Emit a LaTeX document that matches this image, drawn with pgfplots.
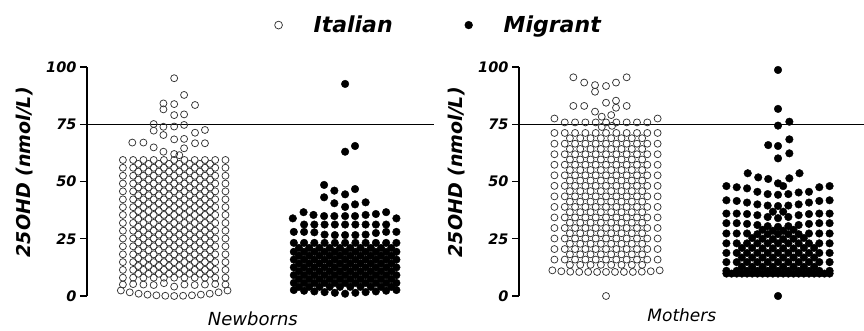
\documentclass[border=0pt]{standalone}
\usepackage{fontspec}
\setmainfont{DejaVu Sans}
\usepackage{pgfplots}
\pgfplotsset{compat=1.18}
\pgfplotsset{
  panel/.style={
    scale only axis, height=229pt,
    ymin=0, ymax=100, clip=false,
    axis lines=left,
    axis line style={-, line width=1.2pt},
    x axis line style={draw=none},
    xtick=\empty,
    ytick={0,25,50,75,100},
    tick align=outside,
    major tick length=7pt,
    tick style={line width=1.2pt, black},
    /pgf/number format/assume math mode=true,
    yticklabel style={font=\fontsize{14.5}{16}\selectfont\bfseries\itshape},
    ylabel={25OHD (nmol/L)},
    ylabel style={font=\fontsize{19}{22}\selectfont\bfseries\itshape, anchor=center},
  },
  ital/.style={only marks, mark=o, mark size=3.5pt, mark options={line width=0.75pt, draw=black!80}},
  migr/.style={only marks, mark=*, mark size=3.8pt, mark options={draw=black, fill=black}},
  refline/.style={no marks, line width=1.3pt, black, forget plot},
}
\begin{document}
\begin{tikzpicture}[x=1pt,y=1pt]
%================ LEFT PANEL: NEWBORNS =================
\begin{axis}[panel, at={(87pt,35pt)}, anchor=south west, width=347pt,
  xmin=0.49, xmax=2.52,
  ylabel style={at={(axis description cs:-0.179,0.54)}},
  xlabel={Newborns},
  xlabel style={at={(axis description cs:0.478,-0.1004)}, anchor=center, font=\fontsize{18}{20}\selectfont\itshape},
  legend columns=2,
  legend style={at={(axis description cs:1.012,1.183)}, anchor=center, draw=none, fill=none,
    font=\fontsize{22}{26}\selectfont\bfseries\itshape,
    /tikz/every even column/.append style={column sep=69pt}},
  legend image code/.code={\draw[#1, mark size=3.9pt] plot coordinates {(0pt,0pt)}; \path[draw=none,fill=none] (-5pt,-3pt) rectangle (33pt,3pt);},
]
\addplot[refline] coordinates {(0.49,75) (2.52,75)};
% Italian newborns
\addplot[ital] coordinates {
(1.000,95.1) (1.058,87.8) (0.937,84.1) (0.937,81.5) (1.000,83.8) (1.122,83.4) (1.000,79.0) (1.058,79.3)
(0.880,75.1) (0.880,72.2) (0.937,73.9) (1.000,74.0) (1.058,74.7) (1.180,72.5) (1.122,71.3)
(0.937,70.3) (1.000,68.4) (1.058,68.6) (1.122,66.7) (1.180,66.7) (0.755,67.0) (0.820,67.0) (0.880,64.9) (0.937,63.0) (1.000,62.0) (1.058,64.5) (1.030,61.5)
(0.70,59.4) (0.76,59.4) (0.82,59.4) (0.88,59.4) (0.94,59.4) (1.00,59.4) (1.06,59.4) (1.12,59.4) (1.18,59.4) (1.24,59.4) (1.30,59.4)
(0.79,57.7) (0.85,57.7) (0.91,57.7) (0.97,57.7) (1.03,57.7) (1.09,57.7) (1.15,57.7) (1.21,57.7)
(0.70,56.0) (0.76,56.0) (0.82,56.0) (0.88,56.0) (0.94,56.0) (1.00,56.0) (1.06,56.0) (1.12,56.0) (1.18,56.0) (1.24,56.0) (1.30,56.0)
(0.79,54.3) (0.85,54.3) (0.91,54.3) (0.97,54.3) (1.03,54.3) (1.09,54.3) (1.15,54.3) (1.21,54.3)
(0.70,52.5) (0.76,52.5) (0.82,52.5) (0.88,52.5) (0.94,52.5) (1.00,52.5) (1.06,52.5) (1.12,52.5) (1.18,52.5) (1.24,52.5) (1.30,52.5)
(0.79,50.8) (0.85,50.8) (0.91,50.8) (0.97,50.8) (1.03,50.8) (1.09,50.8) (1.15,50.8) (1.21,50.8)
(0.70,49.1) (0.76,49.1) (0.82,49.1) (0.88,49.1) (0.94,49.1) (1.00,49.1) (1.06,49.1) (1.12,49.1) (1.18,49.1) (1.24,49.1) (1.30,49.1)
(0.79,47.4) (0.85,47.4) (0.91,47.4) (0.97,47.4) (1.03,47.4) (1.09,47.4) (1.15,47.4) (1.21,47.4)
(0.70,45.7) (0.76,45.7) (0.82,45.7) (0.88,45.7) (0.94,45.7) (1.00,45.7) (1.06,45.7) (1.12,45.7) (1.18,45.7) (1.24,45.7) (1.30,45.7)
(0.79,44.0) (0.85,44.0) (0.91,44.0) (0.97,44.0) (1.03,44.0) (1.09,44.0) (1.15,44.0) (1.21,44.0)
(0.70,42.2) (0.76,42.2) (0.82,42.2) (0.88,42.2) (0.94,42.2) (1.00,42.2) (1.06,42.2) (1.12,42.2) (1.18,42.2) (1.24,42.2) (1.30,42.2)
(0.79,40.5) (0.85,40.5) (0.91,40.5) (0.97,40.5) (1.03,40.5) (1.09,40.5) (1.15,40.5) (1.21,40.5)
(0.70,38.8) (0.76,38.8) (0.82,38.8) (0.88,38.8) (0.94,38.8) (1.00,38.8) (1.06,38.8) (1.12,38.8) (1.18,38.8) (1.24,38.8) (1.30,38.8)
(0.79,37.1) (0.85,37.1) (0.91,37.1) (0.97,37.1) (1.03,37.1) (1.09,37.1) (1.15,37.1) (1.21,37.1)
(0.70,35.4) (0.76,35.4) (0.82,35.4) (0.88,35.4) (0.94,35.4) (1.00,35.4) (1.06,35.4) (1.12,35.4) (1.18,35.4) (1.24,35.4) (1.30,35.4)
(0.79,33.7) (0.85,33.7) (0.91,33.7) (0.97,33.7) (1.03,33.7) (1.09,33.7) (1.15,33.7) (1.21,33.7)
(0.70,31.9) (0.76,31.9) (0.82,31.9) (0.88,31.9) (0.94,31.9) (1.00,31.9) (1.06,31.9) (1.12,31.9) (1.18,31.9) (1.24,31.9) (1.30,31.9)
(0.79,30.2) (0.85,30.2) (0.91,30.2) (0.97,30.2) (1.03,30.2) (1.09,30.2) (1.15,30.2) (1.21,30.2)
(0.70,28.5) (0.76,28.5) (0.82,28.5) (0.88,28.5) (0.94,28.5) (1.00,28.5) (1.06,28.5) (1.12,28.5) (1.18,28.5) (1.24,28.5) (1.30,28.5)
(0.79,26.8) (0.85,26.8) (0.91,26.8) (0.97,26.8) (1.03,26.8) (1.09,26.8) (1.15,26.8) (1.21,26.8)
(0.70,25.1) (0.76,25.1) (0.82,25.1) (0.88,25.1) (0.94,25.1) (1.00,25.1) (1.06,25.1) (1.12,25.1) (1.18,25.1) (1.24,25.1) (1.30,25.1)
(0.79,23.4) (0.85,23.4) (0.91,23.4) (0.97,23.4) (1.03,23.4) (1.09,23.4) (1.15,23.4) (1.21,23.4)
(0.70,21.7) (0.76,21.7) (0.82,21.7) (0.88,21.7) (0.94,21.7) (1.00,21.7) (1.06,21.7) (1.12,21.7) (1.18,21.7) (1.24,21.7) (1.30,21.7)
(0.79,20.0) (0.85,20.0) (0.91,20.0) (0.97,20.0) (1.03,20.0) (1.09,20.0) (1.15,20.0) (1.21,20.0)
(0.70,18.2) (0.76,18.2) (0.82,18.2) (0.88,18.2) (0.94,18.2) (1.00,18.2) (1.06,18.2) (1.12,18.2) (1.18,18.2) (1.24,18.2) (1.30,18.2)
(0.79,16.5) (0.85,16.5) (0.91,16.5) (0.97,16.5) (1.03,16.5) (1.09,16.5) (1.15,16.5) (1.21,16.5)
(0.70,14.8) (0.76,14.8) (0.82,14.8) (0.88,14.8) (0.94,14.8) (1.00,14.8) (1.06,14.8) (1.12,14.8) (1.18,14.8) (1.24,14.8) (1.30,14.8)
(0.79,13.1) (0.85,13.1) (0.91,13.1) (0.97,13.1) (1.03,13.1) (1.09,13.1) (1.15,13.1) (1.21,13.1)
(0.70,11.4) (0.76,11.4) (0.82,11.4) (0.88,11.4) (0.94,11.4) (1.00,11.4) (1.06,11.4) (1.12,11.4) (1.18,11.4) (1.24,11.4) (1.30,11.4)
(0.79,9.7) (0.85,9.7) (0.91,9.7) (0.97,9.7) (1.03,9.7) (1.09,9.7) (1.15,9.7) (1.21,9.7)
(0.70,8.0) (0.76,8.0) (0.82,8.0) (0.88,8.0) (0.94,8.0) (1.00,8.0) (1.06,8.0) (1.12,8.0) (1.18,8.0) (1.24,8.0) (1.30,8.0)
(0.70,5.0) (0.76,5.2) (0.82,5.0) (0.88,4.8) (0.94,5.6) (1.00,4.1) (1.06,5.0) (1.12,4.8) (1.18,5.0) (1.24,5.2) (1.30,5.0)
(0.688,2.4) (0.740,1.6) (0.792,1.0) (0.844,0.6) (0.896,0.3) (0.948,0.1) (1.000,0.0) (1.052,0.1) (1.104,0.3) (1.156,0.6) (1.208,1.0) (1.260,1.6) (1.312,2.4)
};
\addlegendentry{Italian}
% Migrant newborns
\addplot[migr] coordinates {
(2.000,92.6) (2.000,63.0) (2.058,65.5) (1.877,48.5) (1.937,46.0) (2.000,44.4) (2.058,46.7)
(1.877,43.1) (1.937,40.5) (2.000,38.9) (2.058,40.0) (2.120,40.9)
(1.694,33.9) (1.757,36.6) (1.815,35.4) (1.877,34.9) (1.937,34.9) (2.000,34.9) (2.058,34.9) (2.120,35.4) (2.180,35.8) (2.240,36.6) (2.300,33.9)
(1.76,31.2) (1.82,31.2) (1.88,31.2) (1.94,31.2) (2.00,31.2) (2.06,31.2) (2.12,31.2) (2.18,31.2) (2.24,31.2)
(1.70,28.0) (1.76,28.0) (1.82,27.8) (1.88,26.8) (1.94,26.6) (2.00,26.6) (2.06,26.6) (2.12,26.8) (2.18,27.5) (2.24,28.0) (2.30,28.0)
(1.70,23.2) (1.76,23.2) (1.82,23.2) (1.88,23.2) (1.94,23.2) (2.00,23.2) (2.06,23.2) (2.12,23.2) (2.18,23.2) (2.24,23.2) (2.30,23.2)
(1.73,21.0) (1.79,21.0) (1.85,21.0) (1.91,21.0) (1.97,21.0) (2.03,21.0) (2.09,21.0) (2.15,21.0) (2.21,21.0) (2.27,21.0)
(1.70,19.3) (1.76,19.3) (1.82,19.3) (1.88,19.3) (1.94,19.3) (2.00,19.3) (2.06,19.3) (2.12,19.3) (2.18,19.3) (2.24,19.3) (2.30,19.3)
(1.73,17.6) (1.79,17.6) (1.85,17.6) (1.91,17.6) (1.97,17.6) (2.03,17.6) (2.09,17.6) (2.15,17.6) (2.21,17.6) (2.27,17.6)
(1.70,15.9) (1.76,15.9) (1.82,15.9) (1.88,15.9) (1.94,15.9) (2.00,15.9) (2.06,15.9) (2.12,15.9) (2.18,15.9) (2.24,15.9) (2.30,15.9)
(1.73,14.2) (1.79,14.2) (1.85,14.2) (1.91,14.2) (1.97,14.2) (2.03,14.2) (2.09,14.2) (2.15,14.2) (2.21,14.2) (2.27,14.2)
(1.70,12.5) (1.76,12.5) (1.82,12.5) (1.88,12.5) (1.94,12.5) (2.00,12.5) (2.06,12.5) (2.12,12.5) (2.18,12.5) (2.24,12.5) (2.30,12.5)
(1.73,10.8) (1.79,10.8) (1.85,10.8) (1.91,10.8) (1.97,10.8) (2.03,10.8) (2.09,10.8) (2.15,10.8) (2.21,10.8) (2.27,10.8)
(1.70,9.1) (1.76,9.1) (1.82,9.1) (1.88,9.1) (1.94,9.1) (2.00,9.1) (2.06,9.1) (2.12,9.1) (2.18,9.1) (2.24,9.1) (2.30,9.1)
(1.73,7.4) (1.79,7.4) (1.85,7.4) (1.91,7.4) (1.97,7.4) (2.03,7.4) (2.09,7.4) (2.15,7.4) (2.21,7.4) (2.27,7.4)
(1.70,5.7) (1.76,5.7) (1.82,5.7) (1.88,5.7) (1.94,5.7) (2.00,5.7) (2.06,5.7) (2.12,5.7) (2.18,5.7) (2.24,5.7) (2.30,5.7)
(1.73,4.0) (1.79,4.0) (1.85,4.0) (1.91,4.0) (1.97,4.0) (2.03,4.0) (2.09,4.0) (2.15,4.0) (2.21,4.0) (2.27,4.0)
(1.70,2.6) (1.76,2.3) (1.82,2.0) (1.88,1.7) (1.94,1.4) (2.00,1.0) (2.06,1.4) (2.12,1.7) (2.18,2.0) (2.24,2.3) (2.30,2.6)
};
\addlegendentry{Migrant}
\end{axis}
%================ RIGHT PANEL: MOTHERS =================
\begin{axis}[panel, at={(519pt,35pt)}, anchor=south west, width=345pt,
  xmin=0.494, xmax=2.5,
  ylabel style={at={(axis description cs:-0.18,0.54)}},
  xlabel={Mothers},
  xlabel style={at={(axis description cs:0.472,-0.083)}, anchor=center, font=\fontsize{17}{20}\selectfont\itshape},
]
\addplot[refline] coordinates {(0.494,75) (2.5,75)};
% Italian mothers
\addplot[ital] coordinates {
(0.810,95.5) (0.873,93.2) (0.936,92.1) (0.936,89.2) (1.000,91.7) (1.058,93.2) (1.120,95.5)
(0.810,83.0) (0.873,83.0) (0.936,80.5) (1.000,84.4) (1.058,85.3) (1.058,82.2) (1.120,83.0) (0.975,78.3) (1.030,79.0)
(0.70,77.5) (0.76,75.8) (0.82,75.8) (0.88,75.8) (0.94,75.8) (1.00,75.8) (1.06,75.8) (1.12,75.8) (1.18,75.8) (1.24,75.8) (1.30,77.5)
(0.975,73.8) (1.035,74.3)
(0.70,71.2) (0.76,71.2) (0.82,71.2) (0.88,71.2) (0.94,71.2) (1.00,71.2) (1.06,71.2) (1.12,71.2) (1.18,71.2) (1.24,71.2) (1.30,71.2)
(0.79,68.9) (0.85,68.9) (0.91,68.9) (0.97,68.9) (1.03,68.9) (1.09,68.9) (1.15,68.9) (1.21,68.9)
(0.70,66.5) (0.76,66.5) (0.82,66.5) (0.88,66.5) (0.94,66.5) (1.00,66.5) (1.06,66.5) (1.12,66.5) (1.18,66.5) (1.24,66.5) (1.30,66.5)
(0.79,64.2) (0.85,64.2) (0.91,64.2) (0.97,64.2) (1.03,64.2) (1.09,64.2) (1.15,64.2) (1.21,64.2)
(0.70,61.9) (0.76,61.9) (0.82,61.9) (0.88,61.9) (0.94,61.9) (1.00,61.9) (1.06,61.9) (1.12,61.9) (1.18,61.9) (1.24,61.9) (1.30,61.9)
(0.79,59.6) (0.85,59.6) (0.91,59.6) (0.97,59.6) (1.03,59.6) (1.09,59.6) (1.15,59.6) (1.21,59.6)
(0.70,57.3) (0.76,57.3) (0.82,57.3) (0.88,57.3) (0.94,57.3) (1.00,57.3) (1.06,57.3) (1.12,57.3) (1.18,57.3) (1.24,57.3) (1.30,57.3)
(0.79,55.0) (0.85,55.0) (0.91,55.0) (0.97,55.0) (1.03,55.0) (1.09,55.0) (1.15,55.0) (1.21,55.0)
(0.70,52.7) (0.76,52.7) (0.82,52.7) (0.88,52.7) (0.94,52.7) (1.00,52.7) (1.06,52.7) (1.12,52.7) (1.18,52.7) (1.24,52.7) (1.30,52.7)
(0.79,50.4) (0.85,50.4) (0.91,50.4) (0.97,50.4) (1.03,50.4) (1.09,50.4) (1.15,50.4) (1.21,50.4)
(0.70,48.1) (0.76,48.1) (0.82,48.1) (0.88,48.1) (0.94,48.1) (1.00,48.1) (1.06,48.1) (1.12,48.1) (1.18,48.1) (1.24,48.1) (1.30,48.1)
(0.79,45.8) (0.85,45.8) (0.91,45.8) (0.97,45.8) (1.03,45.8) (1.09,45.8) (1.15,45.8) (1.21,45.8)
(0.70,43.5) (0.76,43.5) (0.82,43.5) (0.88,43.5) (0.94,43.5) (1.00,43.5) (1.06,43.5) (1.12,43.5) (1.18,43.5) (1.24,43.5) (1.30,43.5)
(0.79,41.2) (0.85,41.2) (0.91,41.2) (0.97,41.2) (1.03,41.2) (1.09,41.2) (1.15,41.2) (1.21,41.2)
(0.70,38.9) (0.76,38.9) (0.82,38.9) (0.88,38.9) (0.94,38.9) (1.00,38.9) (1.06,38.9) (1.12,38.9) (1.18,38.9) (1.24,38.9) (1.30,38.9)
(0.79,36.6) (0.85,36.6) (0.91,36.6) (0.97,36.6) (1.03,36.6) (1.09,36.6) (1.15,36.6) (1.21,36.6)
(0.70,34.3) (0.76,34.3) (0.82,34.3) (0.88,34.3) (0.94,34.3) (1.00,34.3) (1.06,34.3) (1.12,34.3) (1.18,34.3) (1.24,34.3) (1.30,34.3)
(0.79,32.0) (0.85,32.0) (0.91,32.0) (0.97,32.0) (1.03,32.0) (1.09,32.0) (1.15,32.0) (1.21,32.0)
(0.70,29.7) (0.76,29.7) (0.82,29.7) (0.88,29.7) (0.94,29.7) (1.00,29.7) (1.06,29.7) (1.12,29.7) (1.18,29.7) (1.24,29.7) (1.30,29.7)
(0.79,27.4) (0.85,27.4) (0.91,27.4) (0.97,27.4) (1.03,27.4) (1.09,27.4) (1.15,27.4) (1.21,27.4)
(0.70,25.1) (0.76,25.1) (0.82,25.1) (0.88,25.1) (0.94,25.1) (1.00,25.1) (1.06,25.1) (1.12,25.1) (1.18,25.1) (1.24,25.1) (1.30,25.1)
(0.79,22.8) (0.85,22.8) (0.91,22.8) (0.97,22.8) (1.03,22.8) (1.09,22.8) (1.15,22.8) (1.21,22.8)
(0.70,20.5) (0.76,20.5) (0.82,20.5) (0.88,20.5) (0.94,20.5) (1.00,20.5) (1.06,20.5) (1.12,20.5) (1.18,20.5) (1.24,20.5) (1.30,20.5)
(0.79,18.2) (0.85,18.2) (0.91,18.2) (0.97,18.2) (1.03,18.2) (1.09,18.2) (1.15,18.2) (1.21,18.2)
(0.70,15.9) (0.76,15.9) (0.82,15.9) (0.88,15.9) (0.94,15.9) (1.00,15.9) (1.06,15.9) (1.12,15.9) (1.18,15.9) (1.24,15.9) (1.30,15.9)
(0.79,13.6) (0.85,13.6) (0.91,13.6) (0.97,13.6) (1.03,13.6) (1.09,13.6) (1.15,13.6) (1.21,13.6)
(0.688,11.2) (0.740,10.8) (0.792,10.6) (0.844,10.5) (0.896,10.5) (0.948,10.5) (1.000,10.5) (1.052,10.5) (1.104,10.5) (1.156,10.5) (1.208,10.6) (1.260,10.8) (1.312,11.2)
(1.000,0.0)
};
% Migrant mothers
\addplot[migr] coordinates {
(2.000,98.7) (2.000,81.7) (2.000,74.4) (2.066,76.1) (1.943,65.9) (2.000,65.5) (2.066,68.4) (2.000,60.1) (2.066,62.3)
(1.824,53.6) (1.885,51.8) (1.943,51.1) (2.000,49.2) (2.030,48.0) (2.066,51.4) (2.125,53.6)
(1.70,48.0) (1.76,47.5) (1.82,47.0) (1.88,45.5) (1.94,44.5) (2.00,44.2) (2.06,44.5) (2.12,45.2) (2.18,45.5) (2.24,47.5) (2.30,48.0)
(1.70,41.8) (1.76,41.5) (1.82,40.8) (1.88,40.0) (1.94,39.5) (2.00,39.3) (2.06,39.5) (2.12,40.0) (2.18,40.8) (2.24,41.5) (2.30,41.8)
(1.70,36.0) (1.76,36.0) (1.82,35.8) (1.88,35.3) (1.94,34.5) (2.00,34.0) (2.06,34.5) (2.12,35.3) (2.18,35.8) (2.24,36.0) (2.30,36.0)
(1.97,36.8) (2.03,36.8)
(1.70,31.8) (1.76,31.8) (1.82,31.5) (1.88,31.0) (1.94,30.5) (2.00,30.2) (2.06,30.5) (2.12,31.0) (2.18,31.5) (2.24,31.8) (2.30,31.8)
(1.91,28.9) (1.97,28.5) (2.03,28.5) (2.09,28.9)
(1.70,27.3) (1.76,27.3) (1.82,27.3) (1.88,27.0) (1.94,27.0) (2.00,27.0) (2.06,27.0) (2.12,27.0) (2.18,27.3) (2.24,27.3) (2.30,27.3)
(1.85,25.3) (1.91,25.0) (1.97,24.8) (2.03,24.8) (2.09,25.0) (2.15,25.3)
(1.70,23.0) (1.76,23.0) (1.82,23.0) (1.88,23.0) (1.94,23.0) (2.00,23.0) (2.06,23.0) (2.12,23.0) (2.18,23.0) (2.24,23.0) (2.30,23.0)
(1.79,21.0) (1.85,21.0) (1.91,20.8) (1.97,20.8) (2.03,20.8) (2.09,20.8) (2.15,21.0) (2.21,21.0)
(1.70,18.8) (1.76,18.8) (1.82,18.8) (1.88,18.8) (1.94,18.8) (2.00,18.8) (2.06,18.8) (2.12,18.8) (2.18,18.8) (2.24,18.8) (2.30,18.8)
(1.79,16.8) (1.85,16.8) (1.91,16.8) (1.97,16.8) (2.03,16.8) (2.09,16.8) (2.15,16.8) (2.21,16.8)
(1.70,14.8) (1.76,14.8) (1.82,14.8) (1.88,14.8) (1.94,14.8) (2.00,14.8) (2.06,14.8) (2.12,14.8) (2.18,14.8) (2.24,14.8) (2.30,14.8)
(1.79,12.8) (1.85,12.8) (1.91,12.8) (1.97,12.8) (2.03,12.8) (2.09,12.8) (2.15,12.8) (2.21,12.8)
(1.70,11.0) (1.76,11.0) (1.82,11.0) (1.88,11.0) (1.94,11.0) (2.00,11.0) (2.06,11.0) (2.12,11.0) (2.18,11.0) (2.24,11.0) (2.30,11.0)
(1.70,9.8) (1.73,9.8) (1.76,9.8) (1.79,9.8) (1.82,9.8) (1.85,9.8) (1.88,9.8) (1.91,9.8) (1.94,9.8) (1.97,9.8) (2.00,9.8)
(2.03,9.8) (2.06,9.8) (2.09,9.8) (2.12,9.8) (2.15,9.8) (2.18,9.8) (2.21,9.8) (2.24,9.8) (2.27,9.8) (2.30,9.8)
(2.000,0.0)
};
\end{axis}
\pgfresetboundingbox
\path[use as bounding box] (0pt,0pt) rectangle (864pt,331pt);
\end{tikzpicture}
\end{document}
